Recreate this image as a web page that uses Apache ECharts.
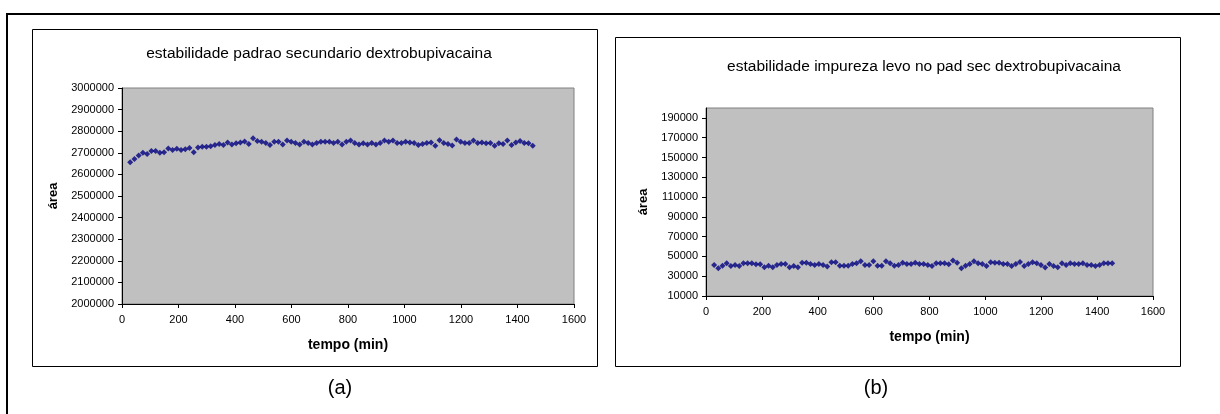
<!DOCTYPE html>
<html lang="pt">

<head>
    <meta charset="UTF-8">
    <title>estabilidade dextrobupivacaina</title>
    <script src="https://cdnjs.cloudflare.com/ajax/libs/echarts/6.0.0/echarts.min.js"></script>
    <style>
        body { margin: 0; background: #fff; }
    </style>
</head>

<body>
    <div id="main" style="width: 1220px;height:414px;"></div>

    <script type="text/javascript">
        // tempo (min) das injecoes
        const tempo = [29, 44, 59, 74, 89, 104, 119, 134, 149, 164, 179, 194, 209, 224, 239, 254, 269, 284, 299, 314,
            329, 344, 359, 374, 389, 404, 419, 434, 449, 464, 479, 494, 509, 524, 539, 554, 569, 584, 599, 614,
            629, 644, 659, 674, 689, 704, 719, 734, 749, 764, 779, 794, 809, 824, 839, 854, 869, 884, 899, 914,
            929, 944, 959, 974, 989, 1004, 1019, 1034, 1049, 1064, 1079, 1094, 1109, 1124, 1139, 1154, 1169, 1184, 1199, 1214,
            1229, 1244, 1259, 1274, 1289, 1304, 1319, 1334, 1349, 1364, 1379, 1394, 1409, 1424, 1439, 1454];

        // (a) area padrao secundario
        const areaPadrao = [2656000, 2671000, 2688000, 2700000, 2694000, 2708000, 2708000, 2700000, 2702000, 2720000,
            2713000, 2719000, 2713000, 2717000, 2722000, 2702000, 2724000, 2728000, 2728000, 2730000,
            2736000, 2741000, 2736000, 2748000, 2739000, 2744000, 2748000, 2752000, 2741000, 2767000,
            2755000, 2751000, 2745000, 2736000, 2751000, 2751000, 2739000, 2757000, 2751000, 2745000,
            2739000, 2751000, 2745000, 2739000, 2745000, 2751000, 2751000, 2751000, 2745000, 2751000,
            2739000, 2751000, 2757000, 2745000, 2739000, 2744000, 2739000, 2745000, 2739000, 2745000,
            2757000, 2751000, 2757000, 2745000, 2745000, 2751000, 2748000, 2745000, 2736000, 2741000,
            2745000, 2748000, 2733000, 2758000, 2745000, 2741000, 2734000, 2761000, 2751000, 2745000,
            2745000, 2757000, 2745000, 2748000, 2744000, 2745000, 2733000, 2744000, 2741000, 2757000,
            2736000, 2748000, 2755000, 2745000, 2744000, 2733000];

        // (b) area impureza levo
        const areaLevo = [41300, 38000, 40600, 43000, 40300, 41300, 40300, 43000, 43000, 43000,
            42000, 42000, 39000, 40600, 39000, 41300, 42300, 42300, 39000, 40300,
            39000, 43700, 43700, 42300, 41300, 42300, 41300, 39700, 44000, 44000,
            40600, 40600, 40600, 42300, 43000, 45000, 41300, 41300, 45000, 40600,
            40600, 45000, 43000, 40600, 41300, 43700, 42300, 42300, 43700, 42300,
            42300, 41300, 40300, 43000, 43000, 43000, 42000, 46000, 43700, 38000,
            40600, 42300, 45000, 43000, 42300, 40300, 44000, 43700, 43700, 42300,
            42300, 40300, 42300, 44400, 40300, 42300, 44000, 43000, 41300, 38700,
            42300, 40300, 39000, 43000, 41300, 43000, 42300, 42300, 43000, 41300,
            41300, 40300, 41300, 43000, 43000, 43000];

        const xTicks = [0, 200, 400, 600, 800, 1000, 1200, 1400, 1600];
        const yTicksA = [2000000, 2100000, 2200000, 2300000, 2400000, 2500000, 2600000, 2700000, 2800000, 2900000, 3000000];
        const yTicksB = [10000, 30000, 50000, 70000, 90000, 110000, 130000, 150000, 170000, 190000];

        const titulos = ['estabilidade padrao secundario dextrobupivacaina', 'estabilidade impureza levo no pad sec dextrobupivacaina'];

        const fonte = 'Liberation Sans, Arial, sans-serif';
        const myChart = echarts.init(document.getElementById('main'));

        function pares(xs, ys) {
            return xs.map((x, i) => [x, ys[i]]);
        }

        // numeros sem separador de milhar, como no Excel
        const semSeparador = (v) => String(v);

        function eixoX(idx) {
            return {
                type: 'value', gridIndex: idx,
                min: xTicks[0], max: xTicks[xTicks.length - 1], interval: 200,
                name: 'tempo (min)', nameLocation: 'middle', nameGap: 34,
                nameTextStyle: { fontFamily: fonte, fontSize: 14, fontWeight: 'bold', color: '#000' },
                axisLine: { lineStyle: { color: '#000', width: 1 } },
                axisTick: { show: true, length: 4, lineStyle: { color: '#000' } },
                axisLabel: { fontFamily: fonte, fontSize: 11, color: '#000', margin: 10, formatter: semSeparador },
                splitLine: { show: false }
            };
        }

        function eixoY(idx, extra) {
            return Object.assign({
                type: 'value', gridIndex: idx,
                name: 'área', nameLocation: 'middle',
                nameTextStyle: { fontFamily: fonte, fontSize: 13, fontWeight: 'bold', color: '#000' },
                axisLine: { show: true, lineStyle: { color: '#000', width: 1 } },
                axisTick: { show: true, length: 4, lineStyle: { color: '#000' } },
                axisLabel: { fontFamily: fonte, fontSize: 11, color: '#000', margin: 8, formatter: semSeparador },
                splitLine: { show: false }
            }, extra);
        }

        var option = {
            animation: false,
            backgroundColor: '#fff',
            title: [
                { text: titulos[0], left: 314, top: 41, textAlign: 'center',
                  textStyle: { fontFamily: fonte, fontSize: 15.5, fontWeight: 'normal', color: '#000' } },
                { text: titulos[1], left: 919, top: 54, textAlign: 'center',
                  textStyle: { fontFamily: fonte, fontSize: 15.5, fontWeight: 'normal', color: '#000' } }
            ],
            grid: [
                { left: 122, top: 88, width: 452, height: 216, show: true, backgroundColor: '#c0c0c0', borderColor: '#808080', borderWidth: 1 },
                { left: 706, top: 108, width: 447, height: 188, show: true, backgroundColor: '#c0c0c0', borderColor: '#808080', borderWidth: 1 }
            ],
            xAxis: [eixoX(0), eixoX(1)],
            yAxis: [
                eixoY(0, { min: yTicksA[0], max: yTicksA[yTicksA.length - 1], interval: 100000, nameGap: 62 }),
                eixoY(1, {
                    min: 10000, max: 200000, interval: 10000, nameGap: 56,
                    axisLabel: { fontFamily: fonte, fontSize: 11, color: '#000', margin: 8, formatter: semSeparador, customValues: yTicksB },
                    axisTick: { show: true, length: 4, lineStyle: { color: '#000' }, customValues: yTicksB }
                })
            ],
            series: [
                { type: 'scatter', xAxisIndex: 0, yAxisIndex: 0, data: pares(tempo, areaPadrao),
                  symbol: 'diamond', symbolSize: 6, itemStyle: { color: '#000080' } },
                { type: 'scatter', xAxisIndex: 1, yAxisIndex: 1, data: pares(tempo, areaLevo),
                  symbol: 'diamond', symbolSize: 6, itemStyle: { color: '#000080' } }
            ],
            graphic: [
                // moldura externa
                { type: 'line', shape: { x1: 7, y1: 14, x2: 1220, y2: 14 }, style: { stroke: '#000', lineWidth: 2 } },
                { type: 'line', shape: { x1: 7, y1: 13, x2: 7, y2: 414 }, style: { stroke: '#000', lineWidth: 2 } },
                // caixas dos graficos
                { type: 'rect', shape: { x: 32.5, y: 29.5, width: 565, height: 337 }, style: { fill: null, stroke: '#000', lineWidth: 1 }, z: -1 },
                { type: 'rect', shape: { x: 615.5, y: 37.5, width: 565, height: 329 }, style: { fill: null, stroke: '#000', lineWidth: 1 }, z: -1 },
                { type: 'text', x: 340, y: 388, style: { text: '(a)', font: '20px ' + fonte, fill: '#000', textAlign: 'center', textVerticalAlign: 'middle' } },
                { type: 'text', x: 876, y: 388, style: { text: '(b)', font: '20px ' + fonte, fill: '#000', textAlign: 'center', textVerticalAlign: 'middle' } }
            ]
        };

        myChart.setOption(option);
    </script>
</body>

</html>
